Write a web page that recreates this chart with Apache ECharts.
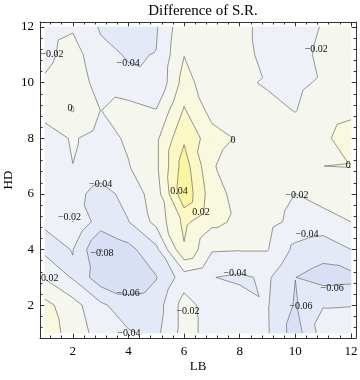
<!DOCTYPE html>
<html><head><meta charset="utf-8">
<script src="https://cdn.jsdelivr.net/npm/echarts@6/dist/echarts.min.js"></script>
<style>html,body{margin:0;padding:0;background:#fff}#c{width:360px;height:380px}</style>
</head><body><div id="c"></div>
<script>
// Grid coordinates
const lbValues = [1,2,3,4,5,6,7,8,9,10,11,12];
const hdValues = [1,2,3,4,5,6,7,8,9,10,11,12];
// Difference of S.R. values, one row per HD value, columns LB = 1..12
const hd1  = [0.008, -0.006, -0.030, -0.038, -0.045, -0.012, -0.028, -0.034, -0.038, -0.070, -0.030, -0.032];
const hd2  = [0.006, -0.012, -0.036, -0.052, -0.050, -0.0118, -0.030, -0.032, -0.0387, -0.062, -0.041, -0.0405];
const hd3  = [-0.022, -0.042, -0.072, -0.073, -0.061, -0.030, -0.0395, -0.043, -0.037, -0.0598, -0.068, -0.066];
const hd4  = [-0.045, -0.0395, -0.0805, -0.066, -0.045, 0.018, -0.018, -0.019, -0.019, -0.045, -0.052, -0.0401];
const hd5  = [-0.038, -0.0198, -0.050, -0.0405, -0.014, 0.025, 0.005, -0.004, -0.014, -0.025, -0.028, -0.0199];
const hd6  = [-0.030, -0.033, -0.048, -0.033, -0.010, 0.055, 0.009, -0.008, -0.012, -0.0202, -0.012, -0.010];
const hd7  = [-0.035, -0.0202, -0.028, -0.021, -0.004, 0.050, 0.002, -0.012, -0.012, -0.012, -0.00002, 0.0005];
const hd8  = [-0.030, -0.018, -0.0278, -0.017, -0.004, 0.037, 0.008, -0.0025, -0.010, -0.013, -0.005, 0.012];
const hd9  = [-0.012, 0.001, -0.0203, -0.0108, -0.019, 0.022, -0.007, -0.012, -0.016, -0.0205, -0.012, -0.006];
const hd10 = [-0.017, -0.005, -0.030, -0.036, -0.038, 0.008, -0.013, -0.0175, -0.0215, -0.023, -0.018, -0.012];
const hd11 = [-0.026, -0.011, -0.035, -0.0415, -0.0395, -0.0005, -0.008, -0.013, -0.026, -0.028, -0.015, -0.012];
const hd12 = [-0.028, -0.0225, -0.042, -0.046, -0.042, -0.005, -0.010, -0.015, -0.026, -0.030, -0.0184, -0.012];
const zGrid = [hd1, hd2, hd3, hd4, hd5, hd6, hd7, hd8, hd9, hd10, hd11, hd12];

// Contour levels and tick values
const levels = [-0.08, -0.06, -0.04, -0.02, 0, 0.02, 0.04];
const majorTicks = [2, 4, 6, 8, 10, 12];
const minorTicks = [1.2,1.6,2.4,2.8,3.2,3.6,4.4,4.8,5.2,5.6,6.4,6.8,7.2,7.6,8.4,8.8,9.2,9.6,10.4,10.8,11.2,11.6];
// Contour labels: [LB, HD, text]
const contourLabels = [
  [1.25, 11.0, '\u22120.02'], [3.99, 10.71, '\u22120.04'], [1.9, 9.06, '0'],
  [10.75, 11.18, '\u22120.02'], [7.76, 7.94, '0'], [11.9, 7.04, '0'],
  [3.0, 6.33, '\u22120.04'], [1.88, 5.14, '\u22120.02'], [3.05, 3.88, '\u22120.08'],
  [1.07, 2.98, '\u22120.02'], [3.99, 2.44, '\u22120.06'], [4.02, 1.0, '\u22120.04'],
  [5.82, 6.1, '0.04'], [6.61, 5.35, '0.02'], [10.06, 5.96, '\u22120.02'],
  [7.83, 3.16, '\u22120.04'], [10.42, 4.53, '\u22120.04'], [11.32, 2.62, '\u22120.06'],
  [10.2, 1.94, '\u22120.06'], [6.14, 1.79, '\u22120.02']
];

// Styles
const bandColors = ['#ccd5f2', '#d9e0f6', '#e4e9f8', '#eef1f7', '#f5f7ee', '#f9f9df', '#fbf8c6', '#fcf5a0'];
const lineColor = 'rgba(110,110,110,0.8)';
const frameColor = '#333';
const serif = '"Liberation Serif", "DejaVu Serif", serif';

const cells = [];
for (let j = 0; j < hdValues.length - 1; j++)
  for (let i = 0; i < lbValues.length - 1; i++)
    cells.push([lbValues[i], hdValues[j], i, j]);

function P(a, b) { return [lbValues[a], hdValues[b], zGrid[b][a]]; }
function trianglesOf(i, j) {
  return [[P(i, j), P(i + 1, j), P(i, j + 1)], [P(i + 1, j + 1), P(i, j + 1), P(i + 1, j)]];
}
function clipPoly(poly, level, keepAbove) {
  const out = [];
  for (let k = 0; k < poly.length; k++) {
    const a = poly[k], b = poly[(k + 1) % poly.length];
    const ina = keepAbove ? a[2] >= level : a[2] <= level;
    const inb = keepAbove ? b[2] >= level : b[2] <= level;
    if (ina) out.push(a);
    if (ina !== inb) {
      const t = (level - a[2]) / (b[2] - a[2]);
      out.push([a[0] + t * (b[0] - a[0]), a[1] + t * (b[1] - a[1]), level]);
    }
  }
  return out;
}
function renderFill(params, api) {
  const c = cells[params.dataIndex];
  const children = [];
  trianglesOf(c[2], c[3]).forEach(tri => {
    for (let b = 0; b < bandColors.length; b++) {
      let poly = tri;
      if (b > 0) poly = clipPoly(poly, levels[b - 1], true);
      if (poly.length >= 3 && b < levels.length) poly = clipPoly(poly, levels[b], false);
      if (poly.length >= 3) {
        children.push({type: 'polygon', shape: {points: poly.map(p => api.coord([p[0], p[1]]))},
          style: {fill: bandColors[b], stroke: bandColors[b], lineWidth: 0.8}});
      }
    }
  });
  return {type: 'group', children};
}
function renderLines(params, api) {
  const c = cells[params.dataIndex];
  const children = [];
  trianglesOf(c[2], c[3]).forEach(tri => {
    levels.forEach(L => {
      const pts = [];
      for (let k = 0; k < 3; k++) {
        const a = tri[k], b = tri[(k + 1) % 3];
        if ((a[2] - L) * (b[2] - L) < 0) {
          const t = (L - a[2]) / (b[2] - a[2]);
          pts.push(api.coord([a[0] + t * (b[0] - a[0]), a[1] + t * (b[1] - a[1])]));
        }
      }
      if (pts.length === 2) {
        children.push({type: 'line', shape: {x1: pts[0][0], y1: pts[0][1], x2: pts[1][0], y2: pts[1][1]},
          style: {stroke: lineColor, lineWidth: 0.9}});
      }
    });
  });
  return {type: 'group', children};
}
function renderLabel(params, api) {
  const d = contourLabels[params.dataIndex];
  const p = api.coord([d[0], d[1]]);
  return {type: 'text', x: p[0], y: p[1],
    style: {text: d[2], fill: '#111', fontSize: 10, fontFamily: serif, align: 'center', verticalAlign: 'middle'}};
}

const base = {type: 'value', min: 0.82, max: 12.18, splitLine: {show: false}};
const tickStyle = {color: frameColor, width: 1};
function axes(posA, posB, name, nameGap, rotate, margin) {
  return [
    Object.assign({}, base, {position: posA, axisLine: {show: true, lineStyle: {color: frameColor, width: 1}},
      axisTick: {show: true, inside: true, length: 4.5, customValues: majorTicks, lineStyle: tickStyle},
      axisLabel: {show: true, customValues: majorTicks, margin: margin, fontFamily: serif, fontSize: 13, color: '#000'},
      name: name, nameLocation: 'middle', nameGap: nameGap, nameRotate: rotate, nameMoveOverlap: false,
      nameTextStyle: {fontFamily: serif, fontSize: 13, color: '#000'}}),
    Object.assign({}, base, {position: posA, axisLine: {show: false},
      axisTick: {show: true, inside: true, length: 2.5, customValues: minorTicks, lineStyle: tickStyle},
      axisLabel: {show: false}}),
    Object.assign({}, base, {position: posB, axisLine: {show: true, lineStyle: {color: frameColor, width: 1}},
      axisTick: {show: true, inside: true, length: 4.5, customValues: majorTicks, lineStyle: tickStyle},
      axisLabel: {show: false}}),
    Object.assign({}, base, {position: posB, axisLine: {show: false},
      axisTick: {show: true, inside: true, length: 2.5, customValues: minorTicks, lineStyle: tickStyle},
      axisLabel: {show: false}})
  ];
}

const chart = echarts.init(document.getElementById('c'), null, {renderer: 'canvas'});
chart.setOption({
  animation: false,
  backgroundColor: '#fff',
  title: {text: 'Difference of S.R.', left: 198, textAlign: 'center', top: -1,
    textStyle: {fontFamily: serif, fontSize: 15, fontWeight: 'normal', color: '#000'}},
  grid: {left: 40, top: 22, width: 316, height: 316, containLabel: false, outerBoundsMode: 'none'},
  xAxis: axes('bottom', 'top', 'LB', 22, 0, 7),
  yAxis: axes('left', 'right', 'HD', 25, 90, 6),
  series: [
    {type: 'custom', coordinateSystem: 'cartesian2d', silent: true, clip: true, data: cells.map(c => [c[0], c[1]]), renderItem: renderFill, z: 1},
    {type: 'custom', coordinateSystem: 'cartesian2d', silent: true, clip: true, data: cells.map(c => [c[0], c[1]]), renderItem: renderLines, z: 2},
    {type: 'custom', coordinateSystem: 'cartesian2d', silent: true, clip: true, data: contourLabels.map(d => [d[0], d[1]]), renderItem: renderLabel, z: 3}
  ]
});
</script></body></html>
